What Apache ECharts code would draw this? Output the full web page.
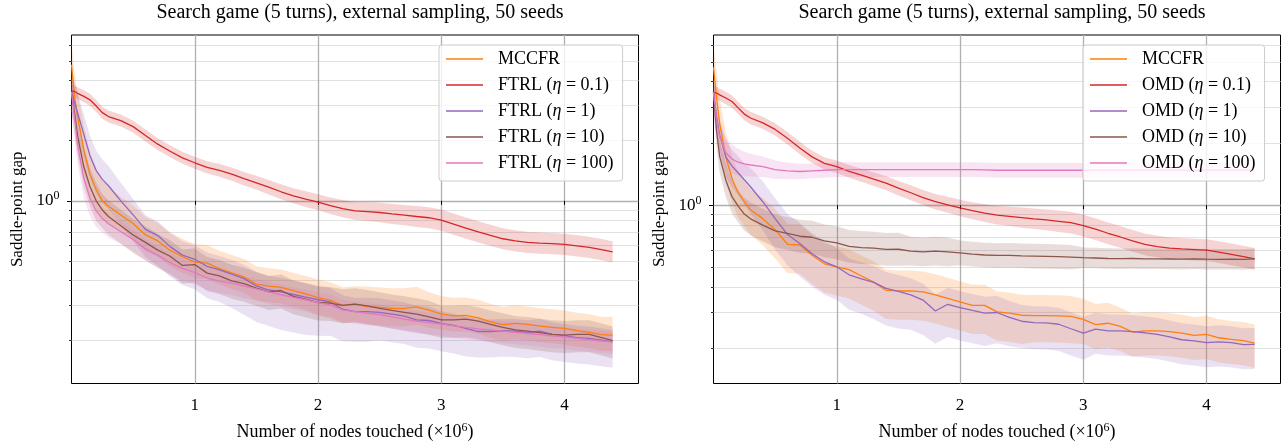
<!DOCTYPE html>
<html><head><meta charset="utf-8">
<script src="https://cdn.jsdelivr.net/npm/echarts@6/dist/echarts.min.js"></script>
<style>html,body{margin:0;padding:0;background:#fff}#c{width:1285px;height:446px}</style>
</head><body><div id="c"></div>
<script>
// ---------------- data ----------------
const leftTitle = 'Search game (5 turns), external sampling, 50 seeds';
const rightTitle = 'Search game (5 turns), external sampling, 50 seeds';
const xAxisName = 'Number of nodes touched (×10';
const xAxisSup = '6';
const yAxisName = 'Saddle-point gap';
const namesLeft = ['MCCFR', 'FTRL (η = 0.1)', 'FTRL (η = 1)', 'FTRL (η = 10)', 'FTRL (η = 100)'];
const namesRight = ['MCCFR', 'OMD (η = 0.1)', 'OMD (η = 1)', 'OMD (η = 10)', 'OMD (η = 100)'];
const xTicks = [1, 2, 3, 4];
const yMajorTicks = [1];
const yMinorTicks = [0.2, 0.3, 0.4, 0.5, 0.6, 0.7, 0.8, 0.9, 2, 3, 4, 5, 6];

// nodes touched (x10^6)
const xNodes = [0,0.025,0.05,0.1,0.15,0.2,0.25,0.3,0.4,0.5,0.6,0.7,0.8,0.9,1.0,1.1,1.2,1.3,1.4,1.5,1.6,1.7,1.8,1.9,2.0,2.1,2.2,2.3,2.4,2.5,2.6,2.7,2.8,2.9,3.0,3.1,3.2,3.3,3.4,3.5,3.6,3.7,3.8,3.9,4.0,4.1,4.2,4.3,4.39];

// left panel (FTRL) mean saddle-point gap
const mccfrL  = [4.8,3.3,2.64,1.8,1.36,1.14,1.0,0.94, 0.85,0.77,0.675,0.63,0.565,0.525, 0.494,0.488,0.458,0.436,0.416,0.383,0.374,0.369,0.355,0.342, 0.328,0.318,0.30,0.304,0.296,0.293,0.29,0.29,0.295,0.284, 0.272,0.266,0.267,0.26,0.248,0.24,0.244,0.241,0.236,0.233, 0.23,0.224,0.22,0.214, 0.213];
const ftrl01  = [3.55,3.52,3.45,3.33,3.2,2.98,2.76,2.64, 2.52,2.35,2.12,1.92,1.77,1.64, 1.55,1.47,1.42,1.36,1.29,1.23,1.17,1.11,1.06,1.02, 0.985,0.945,0.915,0.89,0.882,0.874,0.86,0.848,0.835,0.823, 0.80,0.765,0.73,0.70,0.672,0.646,0.63,0.62,0.615,0.611, 0.605,0.595,0.585,0.57, 0.555];
const ftrl1   = [3.5,3.1,2.75,2.15,1.68,1.42,1.28,1.19, 1.0,0.85,0.72,0.67,0.59,0.535, 0.51,0.47,0.451,0.43,0.408,0.375,0.358,0.35,0.34,0.33, 0.32,0.312,0.287,0.279,0.279,0.277,0.271,0.265,0.254,0.252, 0.244,0.238,0.23,0.222,0.222,0.224,0.223,0.22,0.223,0.215, 0.211,0.207,0.205,0.201, 0.197];
const ftrl10  = [3.5,2.75,2.1,1.48,1.18,1.0,0.9,0.835, 0.75,0.675,0.62,0.567,0.528,0.475, 0.48,0.435,0.421,0.398,0.385,0.366,0.35,0.356,0.333,0.322, 0.31,0.308,0.30,0.304,0.298,0.29,0.283,0.277,0.271,0.263, 0.254,0.254,0.256,0.25,0.241,0.233,0.226,0.223,0.219,0.215, 0.213,0.215,0.215,0.207, 0.20];
const ftrl100 = [3.5,2.6,1.9,1.3,1.03,0.89,0.815,0.768, 0.70,0.64,0.575,0.535,0.49,0.459, 0.438,0.411,0.397,0.388,0.374,0.363,0.35,0.339,0.329,0.32, 0.31,0.302,0.285,0.279,0.274,0.27,0.263,0.256,0.25,0.246, 0.242,0.237,0.233,0.229,0.226,0.223,0.22,0.217,0.214,0.211, 0.209,0.205,0.202,0.199, 0.197];

// left panel band half-widths (log10 units, upper / lower)
const mccfrLHi  = [0.12,0.12,0.12,0.12,0.11,0.10,0.10,0.10, 0.09,0.09,0.09,0.09,0.09,0.09, 0.09,0.09,0.09,0.09,0.09,0.09,0.09,0.09,0.09,0.09, 0.09,0.09,0.09,0.09,0.10,0.10,0.10,0.10,0.10,0.09, 0.09,0.09,0.09,0.09,0.09,0.09,0.09,0.09,0.09,0.09, 0.09,0.09,0.09,0.09, 0.09];
const mccfrLLo  = [0.12,0.12,0.12,0.12,0.11,0.10,0.09,0.09, 0.08,0.08,0.08,0.08,0.08,0.08, 0.08,0.08,0.08,0.08,0.08,0.08,0.08,0.08,0.08,0.08, 0.09,0.09,0.09,0.09,0.09,0.09,0.09,0.09,0.09,0.09, 0.08,0.08,0.08,0.08,0.08,0.08,0.08,0.08,0.08,0.08, 0.08,0.08,0.08,0.08, 0.08];
const ftrl01Band = [0.03,0.03,0.03,0.03,0.03,0.03,0.03,0.03, 0.03,0.03,0.03,0.03,0.03,0.03, 0.03,0.031,0.032,0.033,0.034,0.035,0.036,0.037,0.038,0.039, 0.04,0.041,0.043,0.045,0.047,0.049,0.05,0.051,0.052,0.053, 0.053,0.053,0.053,0.053,0.053,0.053,0.053,0.053,0.053,0.053, 0.053,0.053,0.053,0.053, 0.053];
const ftrl1Hi   = [0.1,0.1,0.1,0.1,0.1,0.1,0.1,0.1, 0.09,0.08,0.07,0.07,0.07,0.07, 0.07,0.07,0.07,0.07,0.07,0.07,0.07,0.07,0.07,0.07, 0.07,0.07,0.07,0.07,0.07,0.07,0.07,0.07,0.07,0.07, 0.06,0.06,0.06,0.06,0.06,0.06,0.06,0.06,0.06,0.06, 0.06,0.06,0.06,0.06, 0.06];
const ftrl1Lo   = [0.1,0.1,0.11,0.12,0.12,0.12,0.12,0.12, 0.12,0.13,0.14,0.15,0.15,0.15, 0.15,0.16,0.16,0.17,0.18,0.18,0.18,0.19,0.19,0.19, 0.18,0.17,0.16,0.15,0.15,0.14,0.14,0.14,0.14,0.14, 0.14,0.14,0.14,0.13,0.13,0.13,0.13,0.13,0.13,0.13, 0.13,0.13,0.13,0.13, 0.13];
const ftrl10Hi  = [0.1,0.1,0.1,0.1,0.09,0.09,0.08,0.08, 0.08,0.08,0.08,0.08,0.08,0.08, 0.08,0.08,0.08,0.08,0.08,0.08,0.08,0.08,0.08,0.08, 0.08,0.08,0.08,0.08,0.08,0.08,0.08,0.08,0.08,0.08, 0.07,0.07,0.07,0.07,0.07,0.07,0.07,0.07,0.07,0.07, 0.07,0.07,0.07,0.07, 0.07];
const ftrl10Lo  = [0.1,0.1,0.1,0.1,0.1,0.1,0.09,0.09, 0.09,0.09,0.09,0.09,0.09,0.09, 0.09,0.09,0.09,0.09,0.09,0.09,0.09,0.09,0.09,0.09, 0.09,0.09,0.09,0.09,0.09,0.09,0.09,0.09,0.09,0.09, 0.09,0.09,0.09,0.09,0.09,0.09,0.09,0.09,0.09,0.09, 0.09,0.09,0.09,0.09, 0.09];
const ftrl100Hi = [0.08,0.08,0.08,0.08,0.07,0.07,0.06,0.06, 0.05,0.05,0.05,0.05,0.05,0.05, 0.05,0.05,0.05,0.05,0.05,0.05,0.05,0.05,0.05,0.05, 0.05,0.05,0.05,0.05,0.05,0.05,0.05,0.05,0.05,0.05, 0.05,0.05,0.05,0.05,0.05,0.05,0.05,0.05,0.05,0.05, 0.05,0.05,0.05,0.05, 0.05];
const ftrl100Lo = [0.1,0.1,0.1,0.1,0.09,0.08,0.07,0.07, 0.06,0.06,0.06,0.06,0.06,0.06, 0.06,0.06,0.06,0.06,0.06,0.06,0.06,0.06,0.06,0.06, 0.06,0.06,0.06,0.06,0.06,0.06,0.06,0.06,0.06,0.06, 0.06,0.06,0.06,0.06,0.06,0.06,0.06,0.06,0.06,0.06, 0.06,0.06,0.06,0.06, 0.06];

// right panel (OMD) mean saddle-point gap
const mccfrR = [4.7,3.35,2.5,1.72,1.35,1.15,1.04,0.95, 0.86,0.76,0.645,0.64,0.57,0.518, 0.501,0.485,0.452,0.422,0.385,0.382,0.382,0.378,0.366,0.352, 0.338,0.325,0.325,0.302,0.298,0.291,0.29,0.29,0.289,0.287, 0.278,0.262,0.266,0.257,0.241,0.244,0.244,0.242,0.238,0.232, 0.235,0.226,0.222,0.219, 0.213];
const omd01  = [3.55,3.52,3.45,3.33,3.2,2.98,2.78,2.66, 2.52,2.34,2.12,1.9,1.72,1.6, 1.54,1.46,1.40,1.34,1.28,1.21,1.15,1.09,1.04,1.005, 0.97,0.94,0.915,0.894,0.882,0.87,0.858,0.848,0.835,0.822, 0.796,0.765,0.73,0.70,0.67,0.644,0.628,0.618,0.612,0.608, 0.604,0.59,0.576,0.562, 0.548];
const omd1   = [3.55,2.7,2.2,1.72,1.55,1.44,1.33,1.23, 1.04,0.86,0.72,0.65,0.58,0.53, 0.501,0.458,0.438,0.421,0.393,0.38,0.366,0.345,0.305,0.329, 0.317,0.307,0.298,0.30,0.284,0.272,0.268,0.267,0.263,0.25, 0.238,0.249,0.244,0.244,0.242,0.239,0.235,0.228,0.221,0.218, 0.214,0.216,0.214,0.209, 0.21];
const omd10  = [3.55,2.3,1.73,1.32,1.1,0.99,0.905,0.858, 0.8,0.75,0.729,0.706,0.698,0.67, 0.656,0.63,0.622,0.618,0.609,0.61,0.598,0.592,0.598,0.592, 0.586,0.578,0.572,0.569,0.57,0.567,0.565,0.563,0.561,0.558, 0.555,0.553,0.55,0.549,0.55,0.548,0.548,0.547,0.546,0.548, 0.546,0.545,0.546,0.544, 0.548];
const omd100 = [3.55,2.6,2.15,1.8,1.68,1.62,1.59,1.57, 1.54,1.49,1.47,1.46,1.47,1.48, 1.49,1.49,1.49,1.49,1.49,1.49,1.49,1.49,1.49,1.49, 1.49,1.49,1.485,1.48,1.48,1.48,1.48,1.48,1.48,1.48, 1.48,1.48,1.48,1.48,1.48,1.48,1.48,1.48,1.48,1.48, 1.48,1.48,1.48,1.48, 1.48];

// right panel band half-widths (log10 units, upper / lower)
const mccfrRHi = [0.12,0.12,0.12,0.12,0.11,0.10,0.10,0.10, 0.10,0.10,0.10,0.10,0.10,0.10, 0.10,0.10,0.10,0.10,0.10,0.10,0.10,0.10,0.10,0.10, 0.10,0.10,0.10,0.10,0.10,0.10,0.10,0.10,0.10,0.10, 0.10,0.10,0.10,0.09,0.09,0.09,0.09,0.09,0.09,0.09, 0.09,0.09,0.09,0.09, 0.09];
const mccfrRLo = [0.12,0.12,0.12,0.12,0.12,0.12,0.12,0.12, 0.13,0.14,0.14,0.14,0.14,0.14, 0.14,0.14,0.14,0.14,0.14,0.14,0.14,0.14,0.14,0.14, 0.14,0.14,0.14,0.14,0.14,0.14,0.13,0.13,0.13,0.13, 0.12,0.12,0.12,0.12,0.12,0.12,0.12,0.12,0.12,0.12, 0.12,0.12,0.12,0.12, 0.12];
const omd01Band = [0.03,0.03,0.03,0.03,0.03,0.03,0.03,0.03, 0.03,0.03,0.03,0.03,0.03,0.03, 0.03,0.031,0.032,0.033,0.034,0.035,0.036,0.037,0.038,0.039, 0.04,0.041,0.043,0.045,0.047,0.049,0.05,0.051,0.052,0.053, 0.053,0.053,0.053,0.053,0.053,0.053,0.053,0.053,0.053,0.053, 0.053,0.053,0.053,0.053, 0.053];
const omd1Hi  = [0.08,0.08,0.08,0.08,0.08,0.08,0.08,0.09, 0.1,0.1,0.1,0.1,0.1,0.1, 0.09,0.08,0.08,0.08,0.08,0.08,0.08,0.08,0.08,0.08, 0.08,0.08,0.08,0.08,0.08,0.08,0.08,0.08,0.08,0.08, 0.08,0.08,0.08,0.08,0.08,0.08,0.08,0.08,0.08,0.08, 0.08,0.08,0.08,0.08, 0.08];
const omd1Lo  = [0.1,0.1,0.1,0.1,0.1,0.11,0.12,0.13, 0.14,0.15,0.15,0.16,0.16,0.16, 0.16,0.17,0.17,0.18,0.18,0.18,0.17,0.17,0.16,0.16, 0.16,0.16,0.16,0.15,0.14,0.13,0.13,0.13,0.13,0.13, 0.13,0.12,0.12,0.12,0.12,0.12,0.12,0.12,0.12,0.12, 0.12,0.12,0.12,0.12, 0.12];
const omd10Hi = [0.08,0.08,0.08,0.08,0.08,0.08,0.08,0.08, 0.08,0.08,0.08,0.08,0.08,0.08, 0.08,0.08,0.08,0.08,0.08,0.08,0.07,0.07,0.07,0.07, 0.06,0.06,0.06,0.06,0.06,0.06,0.06,0.06,0.06,0.06, 0.05,0.05,0.05,0.05,0.05,0.05,0.05,0.05,0.05,0.05, 0.05,0.05,0.05,0.05, 0.05];
const omd10Lo = [0.08,0.08,0.08,0.08,0.08,0.08,0.08,0.08, 0.08,0.08,0.08,0.08,0.08,0.08, 0.08,0.08,0.08,0.08,0.08,0.08,0.07,0.07,0.07,0.07, 0.06,0.06,0.06,0.06,0.06,0.06,0.06,0.06,0.06,0.06, 0.05,0.05,0.05,0.05,0.05,0.05,0.05,0.05,0.05,0.05, 0.05,0.05,0.05,0.05, 0.05];
const omd100Band = [0.03,0.05,0.07,0.07,0.07,0.065,0.06,0.055, 0.05,0.045,0.04,0.038,0.036,0.036, 0.036,0.036,0.036,0.036,0.036,0.036,0.036,0.036,0.036,0.036, 0.036,0.036,0.036,0.036,0.036,0.036,0.036,0.036,0.036,0.036, 0.036,0.036,0.036,0.036,0.036,0.036,0.036,0.036,0.036,0.036, 0.036,0.036,0.036,0.036, 0.036];

const colors = ['#ff7f0e', '#d62728', '#9467bd', '#8c564b', '#e377c2'];

// ---------------- layout ----------------
const SERIF = '"Liberation Serif","DejaVu Serif",serif';
const panels = [
  {left: 71.5, yMin: -0.9137, yMax: 0.8294, title: leftTitle, names: namesLeft,
   vals: [mccfrL, ftrl01, ftrl1, ftrl10, ftrl100],
   his: [mccfrLHi, ftrl01Band, ftrl1Hi, ftrl10Hi, ftrl100Hi],
   los: [mccfrLLo, ftrl01Band, ftrl1Lo, ftrl10Lo, ftrl100Lo], legendLeft: 439},
  {left: 713.5, yMin: -0.8688, yMax: 0.8294, title: rightTitle, names: namesRight,
   vals: [mccfrR, omd01, omd1, omd10, omd100],
   his: [mccfrRHi, omd01Band, omd1Hi, omd10Hi, omd100Band],
   los: [mccfrRLo, omd01Band, omd1Lo, omd10Lo, omd100Band], legendLeft: 1083}
];
const GW = 567, GTOP = 35, GH = 349.5;

function bandSeries(g, yIdx, lvals, hi, lo, color) {
  const data = xNodes.map((x, i) => [x, lvals[i] - lo[i], lvals[i] + hi[i]]);
  return {
    type: 'custom', xAxisIndex: g, yAxisIndex: yIdx, silent: true, clip: true,
    encode: {x: 0, y: [1, 2]}, data: data,
    renderItem: (params, api) => {
      if (params.dataIndex !== 0) return null;
      const up = data.map(d => api.coord([d[0], d[2]]));
      const dn = data.map(d => api.coord([d[0], d[1]])).reverse();
      return {type: 'polygon', shape: {points: up.concat(dn)},
        style: {fill: color, opacity: 0.2, stroke: null}};
    }
  };
}

const grid = [], xAxis = [], yAxis = [], series = [], title = [], legend = [];
panels.forEach((p, g) => {
  grid.push({left: p.left, top: GTOP, width: GW, height: GH, show: true,
    borderColor: '#000', borderWidth: 1, backgroundColor: 'transparent'});
  title.push({text: p.title, left: p.left + GW / 2, top: -2, textAlign: 'center',
    textStyle: {fontFamily: SERIF, fontSize: 20, fontWeight: 'normal', color: '#000'}});
  xAxis.push({gridIndex: g, type: 'value', min: 0, max: 4.6,
    axisLine: {show: false},
    axisTick: {show: true, customValues: xTicks, length: 4, lineStyle: {color: '#000', width: 1}},
    axisLabel: {customValues: xTicks, margin: 14, fontFamily: SERIF, fontSize: 17, color: '#000'},
    splitLine: {show: true, lineStyle: {color: '#b0b0b0', width: 1.3}},
    name: '{a|' + xAxisName + '}{s|' + xAxisSup + '}{a|)}', nameLocation: 'middle', nameGap: 38,
    nameTextStyle: {fontFamily: SERIF, fontSize: 18, color: '#000',
      rich: {a: {fontFamily: SERIF, fontSize: 18, color: '#000'},
             s: {fontFamily: SERIF, fontSize: 12, color: '#000', padding: [0, 0, 9, 0]}}}});
  // minor y axis (first, drawn below)
  yAxis.push({gridIndex: g, type: 'value', position: 'left', min: p.yMin, max: p.yMax,
    axisLine: {show: false},
    axisTick: {show: true, customValues: yMinorTicks.map(v => Math.log10(v)), length: 2.5, lineStyle: {color: '#000', width: 0.8}},
    axisLabel: {show: false},
    splitLine: {show: true, lineStyle: {color: '#e1e1e1', width: 1.2}}});
  // major y axis
  yAxis.push({gridIndex: g, type: 'value', position: 'left', min: p.yMin, max: p.yMax,
    axisLine: {show: false},
    axisTick: {show: true, customValues: yMajorTicks.map(v => Math.log10(v)), length: 4.5, lineStyle: {color: '#000', width: 1}},
    axisLabel: {customValues: yMajorTicks.map(v => Math.log10(v)), margin: 12,
      formatter: () => '{b|10}{s|0}',
      rich: {b: {fontFamily: SERIF, fontSize: 17, color: '#000'},
             s: {fontFamily: SERIF, fontSize: 12, color: '#000', padding: [0, 0, 9, 0]}}},
    splitLine: {show: true, lineStyle: {color: '#b0b0b0', width: 1.3}},
    name: yAxisName, nameLocation: 'middle', nameGap: 45,
    nameTextStyle: {fontFamily: SERIF, fontSize: 17, color: '#000'}});

  const yIdx = 2 * g + 1;
  p.names.forEach((name, k) => {
    const lv = p.vals[k].map(v => Math.log10(v));
    series.push(bandSeries(g, yIdx, lv, p.his[k], p.los[k], colors[k]));
    series.push({type: 'line', name: name, xAxisIndex: g, yAxisIndex: yIdx, symbol: 'none',
      lineStyle: {color: colors[k], width: 1.3}, itemStyle: {color: colors[k]},
      data: xNodes.map((x, i) => [x, lv[i]])});
  });

  legend.push({data: p.names, orient: 'vertical', left: p.legendLeft, top: 45,
    padding: [3, 9, 7, 7], itemGap: 4, itemWidth: 37, itemHeight: 1.6, icon: 'rect',
    backgroundColor: 'rgba(255,255,255,0.8)', borderColor: '#cccccc', borderWidth: 1, borderRadius: 3,
    selectedMode: false,
    formatter: name => {
      const m = name.match(/^(.*)\(η = (.*)\)$/);
      if (!m) return '{p|' + name + '}';
      return '{p|' + m[1] + '(}{i|η}{t| = ' + m[2] + ')}';
    },
    textStyle: {fontFamily: SERIF, fontSize: 18, color: '#000', lineHeight: 22,
      rich: {p: {fontFamily: SERIF, fontSize: 18, color: '#000', padding: [0, 0, 0, 10], lineHeight: 22},
             i: {fontFamily: SERIF, fontSize: 18, color: '#000', fontStyle: 'italic', lineHeight: 22},
             t: {fontFamily: SERIF, fontSize: 18, color: '#000', lineHeight: 22}}}});
});

const chart = echarts.init(document.getElementById('c'), null, {renderer: 'canvas'});
chart.setOption({animation: false, backgroundColor: '#fff', title, legend, grid, xAxis, yAxis, series});
</script></body></html>
